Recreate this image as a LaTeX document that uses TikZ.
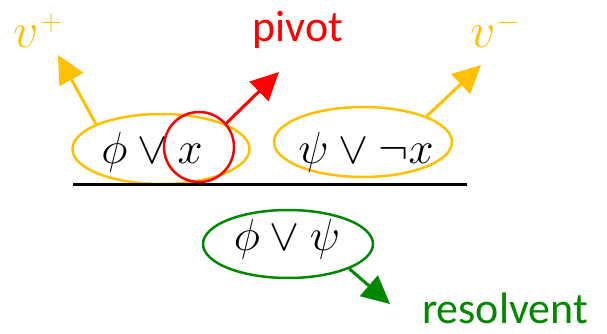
\documentclass[tikz,border=0pt]{standalone}
\usepackage{fix-cm}
\usepackage{fontspec}
\newfontfamily\calib{Carlito}
\usetikzlibrary{arrows.meta,shapes.geometric}
\definecolor{gold}{RGB}{255,192,0}
\definecolor{pred}{RGB}{255,0,0}
\definecolor{dgreen}{RGB}{0,136,0}
\newcommand{\supsym}[1]{\kern1pt\raisebox{17pt}{\fontsize{30}{30}\selectfont$#1$}}
\tikzset{
  ell/.style={draw,ellipse,line width=2.5pt,inner sep=0pt},
  mathtxt/.style={anchor=base,inner sep=0pt,font=\fontsize{45}{50}\selectfont},
  mathlbl/.style={anchor=base,inner sep=0pt,font=\fontsize{50}{56}\selectfont},
  lbl/.style={anchor=base,inner sep=0pt,font=\calib\fontsize{44}{50}\selectfont},
  arr/.style={line width=3pt,-{Triangle[length=28pt,width=27pt]}},
}
\begin{document}
\begin{tikzpicture}[x=1pt,y=-1pt]
\useasboundingbox (0,0) rectangle (607,334);
% premises
\node[ell,gold,minimum width=177pt,minimum height=70pt] (lc) at (161,149) {};
\node[ell,gold,minimum width=178pt,minimum height=70pt] (rc) at (363,142) {};
\node[draw,circle,pred,line width=2.5pt,minimum size=70pt,inner sep=0pt] (pc) at (199,147) {};
\node[mathtxt] (lt) at (152,163) {$\phi\vee x$};
\node[mathtxt] (rt) at (366,163) {$\psi\vee\neg x$};
% line
\coordinate (ls) at (73,184);
\coordinate (le) at (467,184);
\draw[line width=3pt] (ls) -- (le);
% resolvent
\node[ell,dgreen,minimum width=170pt,minimum height=68pt] (gc) at (288,244) {};
\node[mathtxt] (gt) at (287,250) {$\phi\vee\psi$};
% labels
\node[mathlbl,text=gold] (vp) at (38,48) {$v$\supsym{+}};
\node[mathlbl,text=gold] (vm) at (495,48) {$v$\supsym{-}};
\node[lbl,text=pred] (pv) at (298,42) {pivot};
\node[lbl,text=dgreen] (rs) at (505,323) {resolvent};
% arrow tips
\coordinate (tvp) at (58,55);
\coordinate (tpv) at (279,72);
\coordinate (tvm) at (481,65);
\coordinate (trs) at (390,304);
\draw[arr,gold] (lc.159) -- (tvp);
\draw[arr,pred] (pc.41) -- (tpv);
\draw[arr,gold] (rc.22) -- (tvm);
\draw[arr,dgreen] (gc.-22) -- (trs);
\end{tikzpicture}
\end{document}
